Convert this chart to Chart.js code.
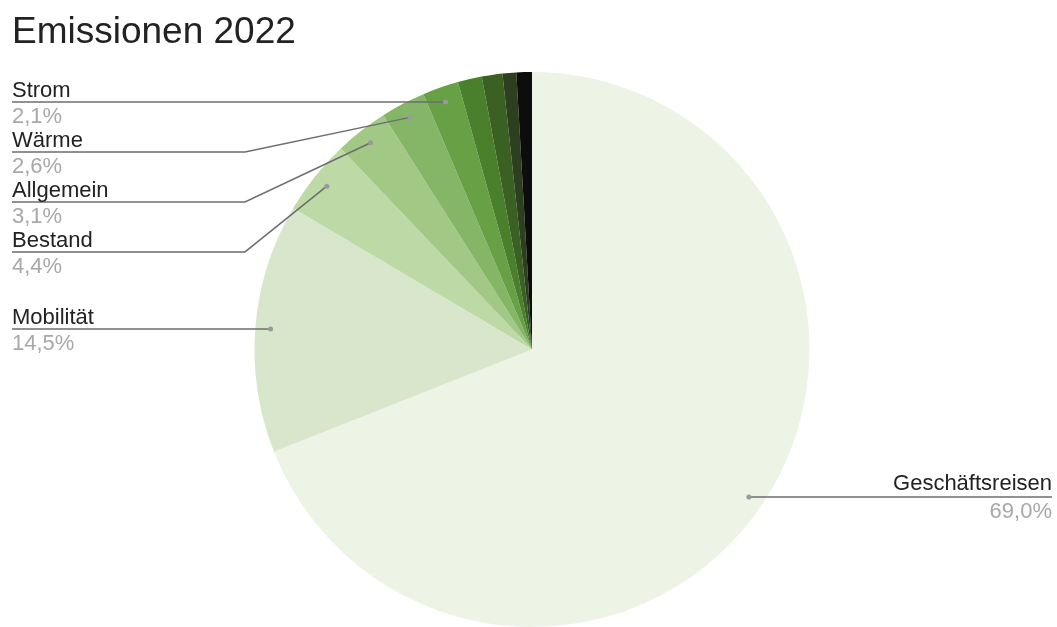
<!DOCTYPE html>
<html>
<head>
<meta charset="utf-8">
<script src="https://cdn.jsdelivr.net/npm/chart.js@4/dist/chart.umd.min.js"></script>
<style>
  html, body { margin: 0; padding: 0; background: #ffffff; }
  #wrap { width: 1057px; height: 627px; position: relative; }
</style>
</head>
<body>
<div id="wrap"><canvas id="chart"></canvas></div>
<script>
// Emissionen 2022 - share per category (%)
const categories = ['Geschäftsreisen', 'Mobilität', 'Bestand', 'Allgemein', 'Wärme', 'Strom',
                    'Weitere 1', 'Weitere 2', 'Weitere 3', 'Weitere 4'];
const shares = [69.0, 14.5, 4.4, 3.1, 2.6, 2.1, 1.4, 1.2, 0.8, 0.9];
const sliceColors = ['#edf4e6', '#d8e7cc', '#bcd9a6', '#a1c985', '#85b566', '#67a045',
                     '#4a7f2c', '#3a6023', '#2c401f', '#0d0d0b'];
const titleText = 'Emissionen 2022';
const minLabelShare = 2; // slices below this get no label

const FONT = '"Liberation Sans", Arial, sans-serif';

function fmtPct(v, total) {
  return (v / total * 100).toFixed(1).replace('.', ',') + '%';
}

// draws title, leader lines and labels like the original
const labelPlugin = {
  id: 'pieLabels',
  afterDraw(chart) {
    const ctx = chart.ctx;
    const meta = chart.getDatasetMeta(0);
    const data = chart.data.datasets[0].data;
    const total = data.reduce((a, b) => a + b, 0);

    ctx.save();
    ctx.fillStyle = '#222';
    ctx.font = '37px ' + FONT;
    ctx.textAlign = 'left';
    ctx.textBaseline = 'alphabetic';
    ctx.fillText(titleText, 12, 43);

    const left = [], right = [];
    meta.data.forEach((arc, i) => {
      if (data[i] < minLabelShare) return;
      const p = arc.getProps(['x', 'y', 'startAngle', 'endAngle', 'outerRadius'], true);
      const mid = (p.startAngle + p.endAngle) / 2;
      const r = p.outerRadius * 0.945;
      const dx = p.x + Math.cos(mid) * r;
      const dy = p.y + Math.sin(mid) * r;
      const item = { i, dx, dy };
      (Math.cos(mid) < 0 ? left : right).push(item);
    });

    function place(list) {
      list.sort((a, b) => a.dy - b.dy);
      let prev = -Infinity;
      list.forEach(it => {
        it.ly = Math.max(it.dy, prev + 50);
        prev = it.ly;
      });
    }
    place(left);
    place(right);

    ctx.strokeStyle = '#6e6e6e';
    ctx.lineWidth = 1.5;

    left.forEach(it => {
      ctx.beginPath();
      ctx.moveTo(12, it.ly);
      ctx.lineTo(245, it.ly);
      ctx.lineTo(it.dx, it.dy);
      ctx.stroke();
      ctx.beginPath();
      ctx.fillStyle = '#9a9a9a';
      ctx.arc(it.dx, it.dy, 2.5, 0, Math.PI * 2);
      ctx.fill();
      ctx.textAlign = 'left';
      ctx.font = '22px ' + FONT;
      ctx.fillStyle = '#222';
      ctx.fillText(categories[it.i], 12, it.ly - 5);
      ctx.fillStyle = '#a8a8a8';
      ctx.fillText(fmtPct(data[it.i], total), 12, it.ly + 21);
    });

    right.forEach(it => {
      const xr = chart.width - 5;
      ctx.beginPath();
      ctx.moveTo(it.dx, it.ly);
      ctx.lineTo(xr, it.ly);
      ctx.stroke();
      ctx.beginPath();
      ctx.fillStyle = '#9a9a9a';
      ctx.arc(it.dx, it.dy, 2.5, 0, Math.PI * 2);
      ctx.fill();
      ctx.textAlign = 'right';
      ctx.font = '22px ' + FONT;
      ctx.fillStyle = '#222';
      ctx.fillText(categories[it.i], xr, it.ly - 7);
      ctx.fillStyle = '#a8a8a8';
      ctx.fillText(fmtPct(data[it.i], total), xr, it.ly + 21);
    });
    ctx.restore();
  }
};

new Chart(document.getElementById('chart'), {
  type: 'pie',
  data: {
    labels: categories,
    datasets: [{
      data: shares,
      backgroundColor: sliceColors,
      borderWidth: 0
    }]
  },
  options: {
    responsive: true,
    maintainAspectRatio: false,
    animation: false,
    layout: { padding: { left: 254, right: 247, top: 72, bottom: 0 } },
    plugins: {
      legend: { display: false },
      tooltip: { enabled: false }
    }
  },
  plugins: [labelPlugin]
});
</script>
</body>
</html>
